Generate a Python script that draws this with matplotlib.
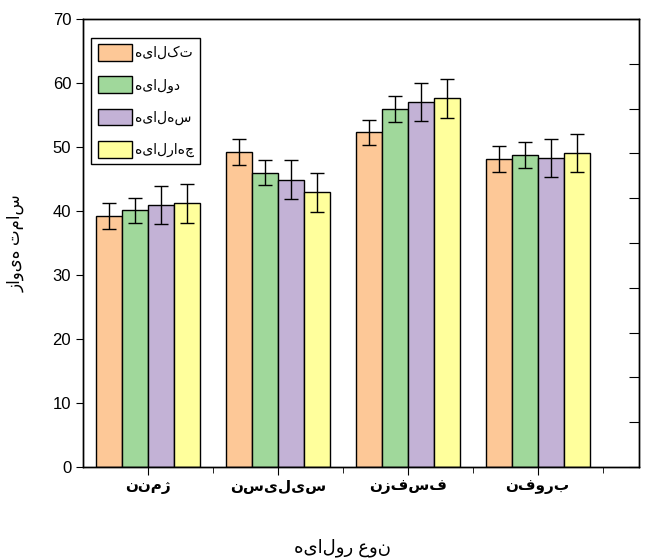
import numpy as np
import matplotlib.pyplot as plt

plt.rcParams['font.family'] = ['Liberation Sans', 'DejaVu Sans']

# data (Persian text already in visual order)
groups = ['ننمژ', 'نسیلیس', 'نزفسف', 'نفورب']
series = ['هیالکت', 'هیالود', 'هیالهس', 'هیالراهچ']
colors = ['#FDC897', '#A0D89B', '#C3B2D6', '#FFFF9C']

single = [39.2, 49.2, 52.3, 48.1]
double = [40.1, 46.0, 55.9, 48.8]
triple = [40.9, 44.9, 57.0, 48.3]
quad = [41.2, 42.9, 57.6, 49.1]
single_err = [2.0, 2.0, 2.0, 2.0]
double_err = [2.0, 2.0, 2.0, 2.0]
triple_err = [3.0, 3.0, 3.0, 3.0]
quad_err = [3.0, 3.0, 3.0, 3.0]

values = [single, double, triple, quad]
errors = [single_err, double_err, triple_err, quad_err]

fig = plt.figure(figsize=(6.48, 5.6), dpi=100)
ax = fig.add_axes([0.128, 0.166, 0.858, 0.800])

x = np.arange(len(groups))
w = 0.2
for i in range(4):
    ax.bar(x + (i - 1.5) * w, values[i], w, color=colors[i], edgecolor='black',
           linewidth=1, label=series[i], zorder=2)
    ax.errorbar(x + (i - 1.5) * w, values[i], yerr=errors[i], fmt='none',
                ecolor='black', elinewidth=1, capsize=5, capthick=1, zorder=3)

ax.set_xlim(-0.5, 3.78)
ax.set_ylim(0, 70)
ax.set_yticks(np.arange(0, 71, 10))
ax.set_xticks(x)
ax.set_xticklabels(groups, fontweight='bold', fontsize=11)
ax.tick_params(axis='y', labelsize=12, direction='out', length=5)
ax.tick_params(axis='x', direction='out', length=6)
ax.set_xticks(x + 0.5, minor=True)
ax.tick_params(axis='x', which='minor', direction='out', length=4)

ax.set_ylabel('زاویه تماس', fontsize=12, labelpad=20)
ax.set_xlabel('هیالور عون', fontsize=13, va='center')
ax.xaxis.set_label_coords(0.467, -0.18)

# right-hand axis: unlabeled 0-10 scale with inward ticks
ax2 = ax.twinx()
ax2.set_ylim(0, 10)
ax2.set_yticks(np.arange(0, 11, 1))
ax2.tick_params(axis='y', direction='in', length=7, labelright=False)

for a in (ax, ax2):
    for s in a.spines.values():
        s.set_linewidth(1)

leg = ax.legend(loc='upper left', bbox_to_anchor=(0.015, 0.958), borderaxespad=0,
                fancybox=False, edgecolor='black', framealpha=1, fontsize=10,
                handlelength=2.5, handleheight=1.5, labelspacing=1.1,
                handletextpad=0.2, borderpad=0.45)
leg.get_frame().set_linewidth(1)

fig.savefig('out.png', dpi=100)
